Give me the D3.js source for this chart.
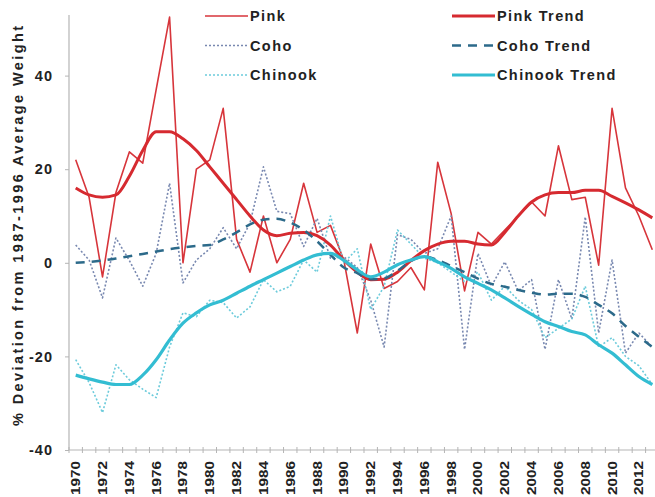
<!DOCTYPE html>
<html>

<head>
    <meta charset="utf-8">
    <title>Salmon Weight Deviation</title>
    <script src="https://cdn.jsdelivr.net/npm/d3@7/dist/d3.min.js"></script>
    <style>
        body { margin: 0; background: #fff; }
        text { font-family: "Liberation Sans", Arial, sans-serif; font-weight: bold; fill: #222; }
    </style>
</head>

<body>
    <svg width="655" height="497" id="mainsvg" style="display: block;"></svg>
    <script>
        // data
        const years = [1970, 1971, 1972, 1973, 1974, 1975, 1976, 1977, 1978, 1979,
            1980, 1981, 1982, 1983, 1984, 1985, 1986, 1987, 1988, 1989,
            1990, 1991, 1992, 1993, 1994, 1995, 1996, 1997, 1998, 1999,
            2000, 2001, 2002, 2003, 2004, 2005, 2006, 2007, 2008, 2009,
            2010, 2011, 2012, 2013];
        const labelYears = [1970, 1972, 1974, 1976, 1978, 1980, 1982, 1984, 1986, 1988, 1990,
            1992, 1994, 1996, 1998, 2000, 2002, 2004, 2006, 2008, 2010, 2012];
        const yTicks = [-40, -20, 0, 20, 40];

        const pink = [22, 14, -3, 15, 23.7, 21.3, 37, 52.5, 0, 20,
            22, 33, 5, -2, 10, 0, 5, 17, 6.5, 8,
            0.5, -15, 4, -5.5, -4, -1, -5.8, 21.5, 10.5, -6,
            6.5, 4, 7, 10, 13, 10, 25, 13.5, 14, -0.5,
            33, 16, 10, 2.8];
        const coho = [3.8, 0.6, -7.5, 5.3, 0.5, -5, 2, 17, -4.3, 0.6,
            3, 7.5, 3, 8.5, 20.5, 11, 10.5, 3.5, 9.5, 1,
            1.3, -1, -8, -18, 6, 5, 2, 3, 10, -18.5,
            2, -5, 0.2, -6, -3.6, -18.5, -3.6, -12, 9.8, -15,
            0.6, -19.3, -15, -18];
        const chinook = [-20.7, -25.6, -32, -21.8, -25, -27, -28.8, -18, -10.7, -11.5,
            -8, -8.5, -11.8, -9.4, -3.6, -6.2, -5, 0.6, -2, 10,
            0, 3, -10, -5, 7, 4, 1, 0, -2, -4,
            -2, -8, -5, -8, -10, -16, -14, -12, -5, -18,
            -16, -20, -22, -26];
        const pinkTrend = [16, 14.5, 14, 14.5, 18.5, 24, 28, 28, 26.5, 24,
            20.5, 17, 13.5, 10, 7, 5.8, 6.3, 6.5, 5.8, 3.8,
            0.6, -2, -3.6, -3.5, -2, 0.5, 2.6, 4, 4.6, 4.6,
            4, 3.8, 6.5, 10, 13, 14.5, 15, 15, 15.5, 15.5,
            14.2, 12.8, 11.3, 9.6];
        const cohoTrend = [0, 0.2, 0.5, 0.9, 1.4, 1.9, 2.4, 2.9, 3.3, 3.6,
            3.8, 5, 6.5, 8.2, 9.2, 9.4, 8.6, 7, 4.6, 1.7,
            -1, -2.2, -3.5, -3.3, -1.7, 0.4, 1.3, 0.6, -0.7, -2,
            -3.4, -4.5, -5.1, -5.8, -6.4, -6.8, -6.6, -6.6, -7.3, -9,
            -10.8, -13.5, -15.8, -18];
        const chinookTrend = [-24, -24.8, -25.5, -26, -26, -24, -20.7, -16.5, -12.9, -10.7,
            -9, -8, -6.5, -5, -3.6, -2.2, -0.8, 0.6, 1.7, 2,
            0.5, -1.5, -3, -2, -0.4, 0.6, 1.3, 0.2, -1.2, -3,
            -4.4, -5.8, -7.5, -9.3, -11, -12.6, -13.6, -14.7, -15.4, -17.5,
            -19.3, -21.8, -24.3, -26];

        const svg = d3.select('#mainsvg');
        const left = 69, right = 659, bottom = 450;

        const xScale = d3.scaleBand().domain(years).range([left, right]);
        const xPos = d => xScale(d) + xScale.bandwidth() / 2;
        const yScale = d3.scaleLinear().domain([-40, 60]).range([bottom, -18]);

        // axes
        svg.append('line').attr('x1', left).attr('x2', left).attr('y1', 15).attr('y2', bottom)
            .attr('stroke', '#b5b5b5').attr('stroke-width', 1.2);
        svg.append('line').attr('x1', left).attr('x2', 655).attr('y1', bottom).attr('y2', bottom)
            .attr('stroke', '#b5b5b5').attr('stroke-width', 1.2);

        const yAxis = d3.axisLeft(yScale).tickValues(yTicks).tickSize(4).tickPadding(12)
            .tickFormat(d => String(d));
        const yg = svg.append('g').attr('transform', `translate(${left}, 0)`).call(yAxis);
        yg.select('.domain').remove();
        yg.selectAll('.tick line').attr('stroke', '#b5b5b5');
        yg.selectAll('.tick text').attr('font-size', 14.5).attr('letter-spacing', 1)
            .attr('font-family', null).attr('fill', '#222');

        // x tick marks sit between years
        svg.append('g').selectAll('line').data(years).join('line')
            .attr('x1', d => xScale(d)).attr('x2', d => xScale(d))
            .attr('y1', bottom - 3).attr('y2', bottom + 3)
            .attr('stroke', '#b5b5b5');

        svg.append('g').selectAll('text').data(labelYears).join('text')
            .attr('transform', d => `translate(${xPos(d) + 4.5}, ${bottom + 11}) rotate(-90)`)
            .attr('text-anchor', 'end')
            .attr('font-size', 12.5)
            .attr('textLength', 34).attr('lengthAdjust', 'spacingAndGlyphs')
            .text(d => d);

        svg.append('text')
            .attr('transform', `translate(23, 226) rotate(-90)`)
            .attr('text-anchor', 'middle')
            .attr('font-size', 14.5)
            .attr('textLength', 400).attr('lengthAdjust', 'spacing')
            .text('% Deviation from 1987-1996 Average Weight');

        // series
        const series = [
            { name: 'Pink', values: pink, color: '#d7353b', width: 1.6, dash: null, curve: d3.curveLinear },
            { name: 'Coho', values: coho, color: '#7888b0', width: 1.6, dash: '2,2', curve: d3.curveLinear },
            { name: 'Chinook', values: chinook, color: '#6ccbdb', width: 1.6, dash: '2,2', curve: d3.curveLinear },
            { name: 'Pink Trend', values: pinkTrend, color: '#d62a30', width: 3, dash: null, curve: d3.curveMonotoneX },
            { name: 'Coho Trend', values: cohoTrend, color: '#2c6a8a', width: 2.5, dash: '9,7', curve: d3.curveMonotoneX },
            { name: 'Chinook Trend', values: chinookTrend, color: '#33bdd2', width: 3.2, dash: null, curve: d3.curveMonotoneX }
        ];

        series.forEach(s => {
            const line = d3.line().x((d, i) => xPos(years[i])).y(d => yScale(d)).curve(s.curve);
            svg.append('path').datum(s.values)
                .attr('d', line)
                .attr('fill', 'none')
                .attr('stroke', s.color)
                .attr('stroke-width', s.width)
                .attr('stroke-dasharray', s.dash)
                .attr('stroke-linejoin', 'round');
        });

        // legend: two columns of three rows
        const legend = svg.append('g');
        series.forEach((s, i) => {
            const col = Math.floor(i / 3), row = i % 3;
            const x0 = col === 0 ? 205 : 452;
            const yy = 16 + row * 29.5;
            legend.append('line')
                .attr('x1', x0).attr('x2', x0 + 43).attr('y1', yy).attr('y2', yy)
                .attr('stroke', s.color).attr('stroke-width', s.width)
                .attr('stroke-dasharray', s.dash);
            legend.append('text')
                .attr('x', x0 + 45).attr('y', yy).attr('dy', '0.36em')
                .attr('font-size', 14.5).attr('letter-spacing', 1.4)
                .text(s.name);
        });
    </script>
</body>

</html>
